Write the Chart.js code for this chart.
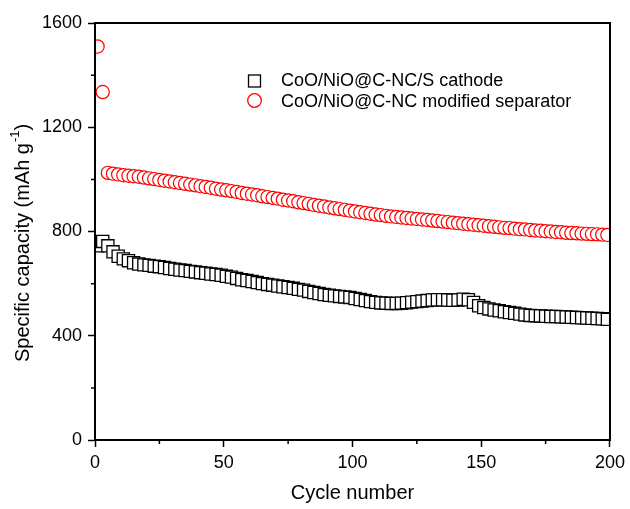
<!DOCTYPE html>
<html>
<head>
<meta charset="utf-8">
<script src="https://cdn.jsdelivr.net/npm/chart.js@4"></script>
<style>
  html, body { margin: 0; padding: 0; background: #fff; }
  #wrap { width: 630px; height: 509px; }
</style>
</head>
<body>
<div id="wrap"><canvas id="chart" width="630" height="509"></canvas></div>
<script>
// cycle numbers (every second cycle)
const cycles = [];
for (let c = 1; c < 200; c += 2) cycles.push(c);

// CoO/NiO@C-NC/S cathode
const cathode = [
    745, 762, 745, 722, 705, 695, 688, 680, 675, 672,
    670, 667, 665, 662, 658, 655, 652, 650, 647, 645,
    642, 640, 637, 635, 632, 628, 625, 620, 615, 612,
    608, 604, 600, 597, 594, 591, 588, 585, 582, 578,
    575, 570, 566, 562, 558, 555, 553, 551, 549, 547,
    543, 539, 535, 531, 528, 526, 525, 524, 524, 525,
    527, 529, 531, 533, 535, 537, 538, 538, 537, 536,
    537, 540, 538, 528, 515, 508, 503, 499, 496, 492,
    489, 486, 483, 480, 478, 477, 476, 475, 474, 474,
    473, 472, 471, 470, 469, 468, 467, 466, 465, 463
];

// CoO/NiO@C-NC modified separator
const separator = [
    1510, 1335, 1025, 1022, 1019, 1016, 1014, 1012, 1010, 1007,
    1004, 1001, 998, 995, 992, 989, 986, 983, 980, 977,
    974, 971, 968, 964, 961, 958, 955, 952, 948, 945,
    942, 939, 935, 932, 929, 926, 922, 919, 916, 912,
    909, 906, 902, 899, 896, 892, 889, 886, 883, 880,
    877, 874, 871, 868, 865, 863, 860, 858, 856, 854,
    852, 850, 848, 846, 844, 842, 840, 838, 836, 834,
    832, 830, 828, 826, 824, 822, 820, 818, 816, 814,
    813, 811, 809, 808, 806, 804, 803, 801, 800, 798,
    797, 795, 794, 793, 792, 791, 790, 789, 788, 787
];

const seriesNames = ['CoO/NiO@C-NC/S cathode', 'CoO/NiO@C-NC modified separator'];
const xTicks = [0, 50, 100, 150, 200];
const yTicks = [0, 400, 800, 1200, 1600];

const FONT = "'Liberation Sans', Arial, sans-serif";

function toPoints(values) {
    return values.map((v, i) => ({ x: cycles[i], y: v }));
}

// frame, minor ticks, y title with superscript and in-plot legend
const framePlugin = {
    id: 'frame',
    afterDraw(chart) {
        const ctx = chart.ctx;
        const a = chart.chartArea;
        const xs = chart.scales.x;
        const ys = chart.scales.y;
        ctx.save();
        ctx.strokeStyle = '#000';
        ctx.lineWidth = 2;
        ctx.strokeRect(a.left, a.top, a.right - a.left, a.bottom - a.top);

        // minor ticks
        ctx.lineWidth = 1.5;
        ctx.beginPath();
        for (let i = 0; i < xTicks.length - 1; i++) {
            const px = xs.getPixelForValue((xTicks[i] + xTicks[i + 1]) / 2);
            ctx.moveTo(px, a.bottom);
            ctx.lineTo(px, a.bottom + 4);
        }
        for (let i = 0; i < yTicks.length - 1; i++) {
            const py = ys.getPixelForValue((yTicks[i] + yTicks[i + 1]) / 2);
            ctx.moveTo(a.left, py);
            ctx.lineTo(a.left - 4, py);
        }
        ctx.stroke();

        // y axis title
        ctx.save();
        ctx.translate(23, 362);
        ctx.rotate(-Math.PI / 2);
        ctx.fillStyle = '#000';
        ctx.textBaseline = 'middle';
        ctx.textAlign = 'left';
        ctx.font = '20px ' + FONT;
        const t1 = 'Specific capacity (mAh g';
        ctx.fillText(t1, 0, 0);
        let w = ctx.measureText(t1).width;
        ctx.font = '13px ' + FONT;
        ctx.fillText('-1', w + 1, -8);
        w += ctx.measureText('-1').width + 1;
        ctx.font = '20px ' + FONT;
        ctx.fillText(')', w, 0);
        ctx.restore();

        // legend
        ctx.font = '18px ' + FONT;
        ctx.textBaseline = 'middle';
        ctx.fillStyle = '#000';
        ctx.lineWidth = 1.3;
        ctx.strokeStyle = '#000';
        ctx.strokeRect(248.5, 75, 12, 12);
        ctx.fillText(seriesNames[0], 281, 81);
        ctx.strokeStyle = '#ff0000';
        ctx.beginPath();
        ctx.arc(254.5, 100.5, 6.8, 0, Math.PI * 2);
        ctx.stroke();
        ctx.fillText(seriesNames[1], 281, 102);
        ctx.restore();
    }
};

new Chart(document.getElementById('chart'), {
    type: 'scatter',
    data: {
        datasets: [
            {
                label: seriesNames[0],
                data: toPoints(cathode),
                pointStyle: 'rect',
                pointRadius: 8.6,
                pointBorderWidth: 1.3,
                pointBorderColor: '#000',
                pointBackgroundColor: '#fff',
                showLine: false
            },
            {
                label: seriesNames[1],
                data: toPoints(separator),
                pointStyle: 'circle',
                pointRadius: 6.6,
                pointBorderWidth: 1.2,
                pointBorderColor: '#ff0000',
                pointBackgroundColor: '#fff',
                showLine: false
            }
        ]
    },
    options: {
        responsive: false,
        animation: false,
        layout: { padding: { top: 23, right: 18, left: 0, bottom: 0 } },
        plugins: {
            legend: { display: false },
            tooltip: { enabled: false }
        },
        scales: {
            x: {
                type: 'linear',
                min: 0,
                max: 200,
                afterFit: s => { s.height = 69; },
                afterBuildTicks: s => { s.ticks = xTicks.map(v => ({ value: v })); },
                border: { color: '#000', width: 2 },
                grid: { drawOnChartArea: false, drawTicks: true, tickLength: 7, tickColor: '#000', tickWidth: 1.5 },
                ticks: { color: '#000', font: { family: FONT, size: 18 }, padding: 5, maxRotation: 0, callback: v => String(v) },
                title: { display: true, text: 'Cycle number', color: '#000', font: { family: FONT, size: 20 }, padding: { top: 8 } }
            },
            y: {
                type: 'linear',
                min: 0,
                max: 1600,
                afterFit: s => { s.width = 95; },
                afterBuildTicks: s => { s.ticks = yTicks.map(v => ({ value: v })); },
                border: { color: '#000', width: 2 },
                grid: { drawOnChartArea: false, drawTicks: true, tickLength: 7, tickColor: '#000', tickWidth: 1.5 },
                ticks: { color: '#000', font: { family: FONT, size: 18 }, padding: 6, callback: v => String(v) },
                title: { display: false }
            }
        }
    },
    plugins: [framePlugin]
});
</script>
</body>
</html>
